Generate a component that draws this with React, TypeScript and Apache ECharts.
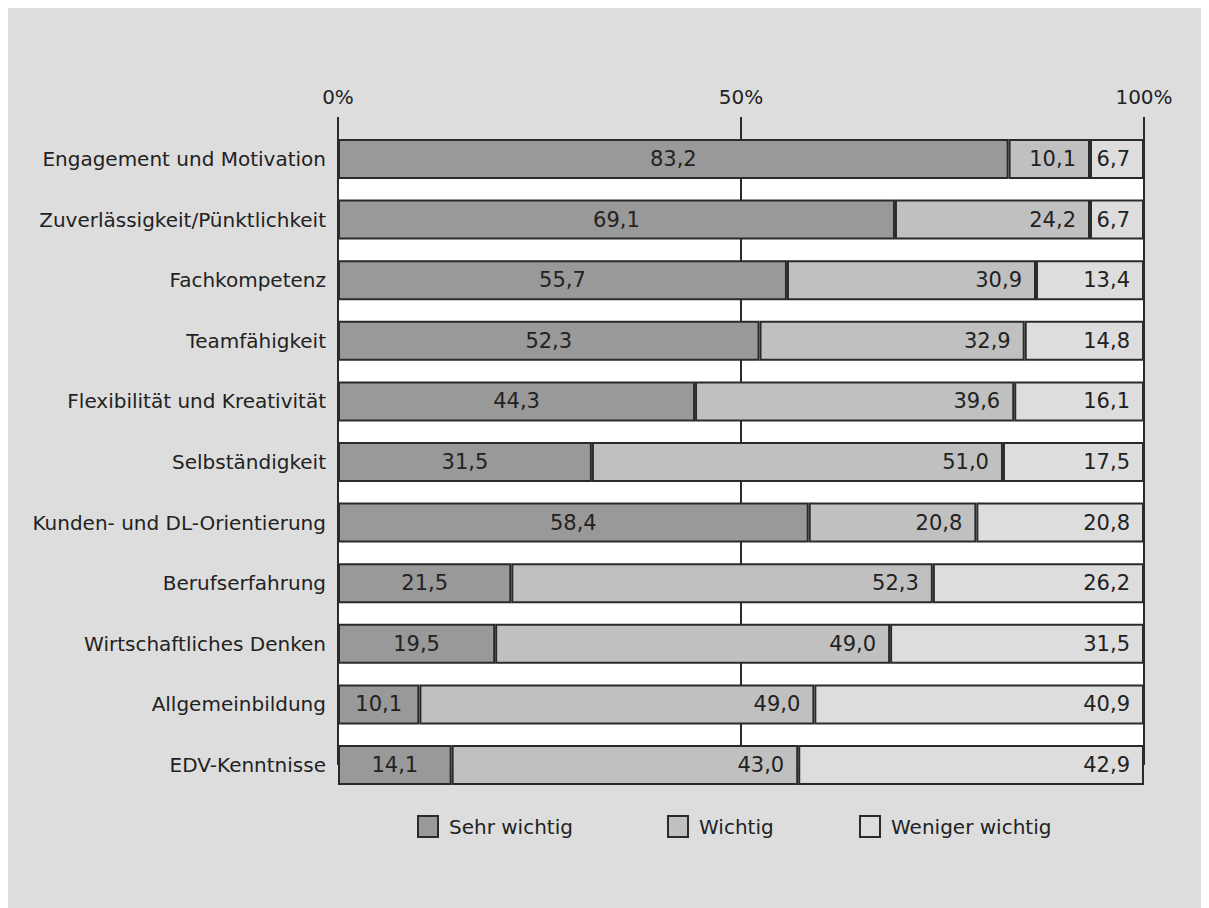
import React, { useEffect, useRef } from "react";
import * as echarts from "echarts";

const categories = [
  "Engagement und Motivation",
  "Zuverlässigkeit/Pünktlichkeit",
  "Fachkompetenz",
  "Teamfähigkeit",
  "Flexibilität und Kreativität",
  "Selbständigkeit",
  "Kunden- und DL-Orientierung",
  "Berufserfahrung",
  "Wirtschaftliches Denken",
  "Allgemeinbildung",
  "EDV-Kenntnisse",
];

const sehrWichtig = [83.2, 69.1, 55.7, 52.3, 44.3, 31.5, 58.4, 21.5, 19.5, 10.1, 14.1];
const wichtig = [10.1, 24.2, 30.9, 32.9, 39.6, 51.0, 20.8, 52.3, 49.0, 49.0, 43.0];
const wenigerWichtig = [6.7, 6.7, 13.4, 14.8, 16.1, 17.5, 20.8, 26.2, 31.5, 40.9, 42.9];

const seriesNames = ["Sehr wichtig", "Wichtig", "Weniger wichtig"];
const xTicks = [0, 50, 100];

const COLORS = ["#999999", "#c0c0c0", "#dddddd"];
const LINE = "#2a2a2a";
const TEXT = "#222222";
const FONT = "DejaVu Sans, Verdana, sans-serif";

const fmt = (v: number) => v.toFixed(1).replace(".", ",");

export default function App() {
  const ref = useRef<HTMLDivElement>(null);
  useEffect(() => {
    if (!ref.current) return;
    const chart = echarts.init(ref.current, null, { renderer: "svg" });
    const mkSeries = (name: string, data: number[], idx: number) => ({
      name,
      type: "bar",
      stack: "total",
      data,
      barWidth: 40,
      itemStyle: { color: COLORS[idx], borderColor: LINE, borderWidth: 2 },
      label: {
        show: true,
        position: idx === 0 ? "inside" : "insideRight",
        distance: 14,
        formatter: (p: any) => fmt(p.value),
        color: TEXT,
        fontSize: 21,
        fontFamily: FONT,
      },
    });
    const legendLefts = [409, 659, 851];
    chart.setOption({
      animation: false,
      backgroundColor: "#dddddd",
      textStyle: { fontFamily: FONT },
      grid: {
        left: 330,
        width: 806,
        top: 151,
        height: 606,
        show: true,
        backgroundColor: "#ffffff",
        borderWidth: 0,
      },
      legend: seriesNames.map((n, i) => ({
        data: [n],
        left: legendLefts[i],
        top: 807,
        padding: 0,
        itemWidth: 20,
        itemHeight: 21,
        icon: "rect",
        itemStyle: { color: COLORS[i], borderColor: LINE, borderWidth: 2 },
        textStyle: { color: TEXT, fontSize: 20, fontFamily: FONT, padding: [0, 0, 0, 6] },
        selectedMode: false,
      })),
      xAxis: {
        type: "value",
        position: "top",
        min: 0,
        max: 100,
        interval: 50,
        axisLine: { show: false },
        axisTick: { show: true, length: 42, lineStyle: { color: LINE, width: 2 } },
        axisLabel: {
          margin: 52,
          color: TEXT,
          fontSize: 20,
          fontFamily: FONT,
          formatter: (v: number) => (xTicks.includes(v) ? v + "%" : ""),
        },
        splitLine: { show: true, lineStyle: { color: LINE, width: 2 } },
      },
      yAxis: {
        type: "category",
        data: categories,
        inverse: true,
        boundaryGap: false,
        axisLine: { show: false },
        axisTick: { show: false },
        axisLabel: { margin: 12, color: TEXT, fontSize: 20, fontFamily: FONT },
        splitLine: { show: false },
      },
      series: [
        mkSeries(seriesNames[0], sehrWichtig, 0),
        mkSeries(seriesNames[1], wichtig, 1),
        mkSeries(seriesNames[2], wenigerWichtig, 2),
      ],
    });
    return () => chart.dispose();
  }, []);
  return <div ref={ref} style={{ width: 1201, height: 900 }} />;
}
